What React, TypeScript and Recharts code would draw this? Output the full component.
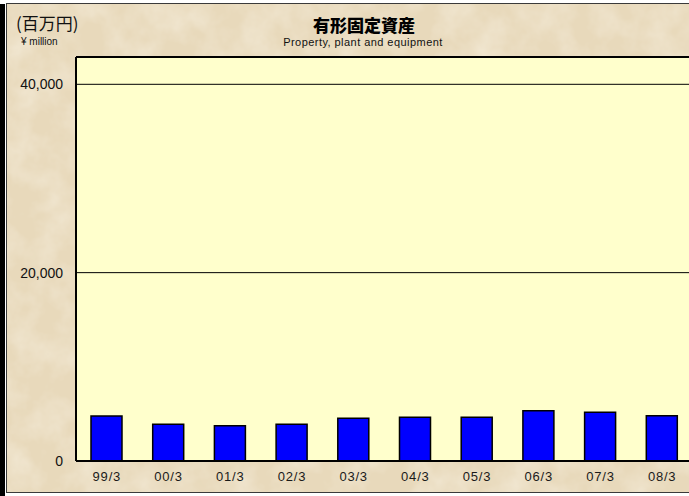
import React from "react"
import { BarChart, Bar, XAxis, YAxis, CartesianGrid, ReferenceLine } from "recharts"

const periods = ["99/3", "00/3", "01/3", "02/3", "03/3", "04/3", "05/3", "06/3", "07/3", "08/3"]
const ppe = [4780, 3890, 3750, 3900, 4530, 4640, 4640, 5340, 5170, 4810]
const yTicks = [0, 20000, 40000]
const yMax = 42900

const data = periods.map((p, i) => ({ period: p, value: ppe[i] }))

const fmt = (v: number) => v.toLocaleString("en-US")

export default function App() {
  return (
    <div
      style={{
        position: "fixed",
        left: 0,
        top: 0,
        width: 689,
        height: 496,
        overflow: "hidden",
        background: "#ffffff",
      }}
    >
      {/* black bar on the left edge */}
      <div style={{ position: "absolute", left: 0, top: 4, width: 5, height: 492, background: "#000" }} />

      {/* parchment frame */}
      <div
        style={{
          position: "absolute",
          left: 6,
          top: 3,
          width: 700,
          height: 488,
          border: "1.5px solid #3a3a3a",
          background: "#e8d9bb",
          overflow: "hidden",
        }}
      >
        <svg width="700" height="490" style={{ position: "absolute", left: 0, top: 0 }}>
          <filter id="paper">
            <feTurbulence type="fractalNoise" baseFrequency="0.03" numOctaves="4" seed="3" />
            <feColorMatrix
              type="matrix"
              values="0 0 0 0 0.97  0 0 0 0 0.93  0 0 0 0 0.84  0 0 0 0.8 -0.3"
            />
          </filter>
          <rect width="700" height="490" filter="url(#paper)" />
        </svg>
      </div>

      <div style={{ position: "absolute", left: 0, top: 0 }}>
        <BarChart
          width={700}
          height={496}
          data={data}
          margin={{ top: 57, right: 7, bottom: 5, left: 0 }}
          barCategoryGap={0}
        >
          <CartesianGrid
            vertical={false}
            horizontalValues={[20000, 40000]}
            stroke="#000"
            strokeWidth={1}
            fill="#ffffcc"
            fillOpacity={1}
          />
          <XAxis
            dataKey="period"
            height={30}
            tickLine={false}
            tickSize={0}
            tickMargin={11}
            axisLine={{ stroke: "#000", strokeWidth: 2 }}
            tick={{ fill: "#1a1a1a", fontSize: 13, fontFamily: "'Liberation Sans Narrow', 'Liberation Sans', sans-serif", letterSpacing: 0.8 }}
            interval={0}
          />
          <YAxis
            width={76}
            domain={[0, yMax]}
            ticks={yTicks}
            tickFormatter={fmt}
            tickLine={false}
            tickSize={0}
            tickMargin={13}
            axisLine={{ stroke: "#000", strokeWidth: 2 }}
            tick={{ fill: "#111", fontSize: 14, fontFamily: "'Liberation Sans', Arial, sans-serif" }}
            allowDataOverflow
          />
          <ReferenceLine y={yMax} stroke="#000" strokeWidth={2} ifOverflow="visible" />
          <Bar dataKey="value" fill="#0000ff" stroke="#000" strokeWidth={1.5} barSize={31} isAnimationActive={false} />
        </BarChart>
      </div>

      <div
        style={{
          position: "absolute",
          left: 16,
          top: 12,
          fontSize: 17,
          lineHeight: "22px",
          color: "#111",
          fontFamily: "'Noto Sans CJK JP', sans-serif",
          whiteSpace: "nowrap",
        }}
      >
        (百万円)
      </div>
      <div
        style={{
          position: "absolute",
          left: 21,
          top: 35,
          fontSize: 10,
          lineHeight: "13px",
          color: "#111",
          fontFamily: "'Liberation Sans', Arial, sans-serif",
          whiteSpace: "nowrap",
        }}
      >
        ¥ million
      </div>
      <div
        style={{
          position: "absolute",
          left: 264,
          width: 200,
          top: 14,
          textAlign: "center",
          fontSize: 17,
          fontWeight: 900,
          lineHeight: "22px",
          color: "#000",
          fontFamily: "'Noto Sans CJK JP', sans-serif",
          whiteSpace: "nowrap",
        }}
      >
        有形固定資産
      </div>
      <div
        style={{
          position: "absolute",
          left: 213,
          width: 300,
          top: 35,
          textAlign: "center",
          fontSize: 11,
          letterSpacing: 0.45,
          lineHeight: "14px",
          color: "#111",
          fontFamily: "'Liberation Sans', Arial, sans-serif",
          whiteSpace: "nowrap",
        }}
      >
        Property, plant and equipment
      </div>
    </div>
  )
}
